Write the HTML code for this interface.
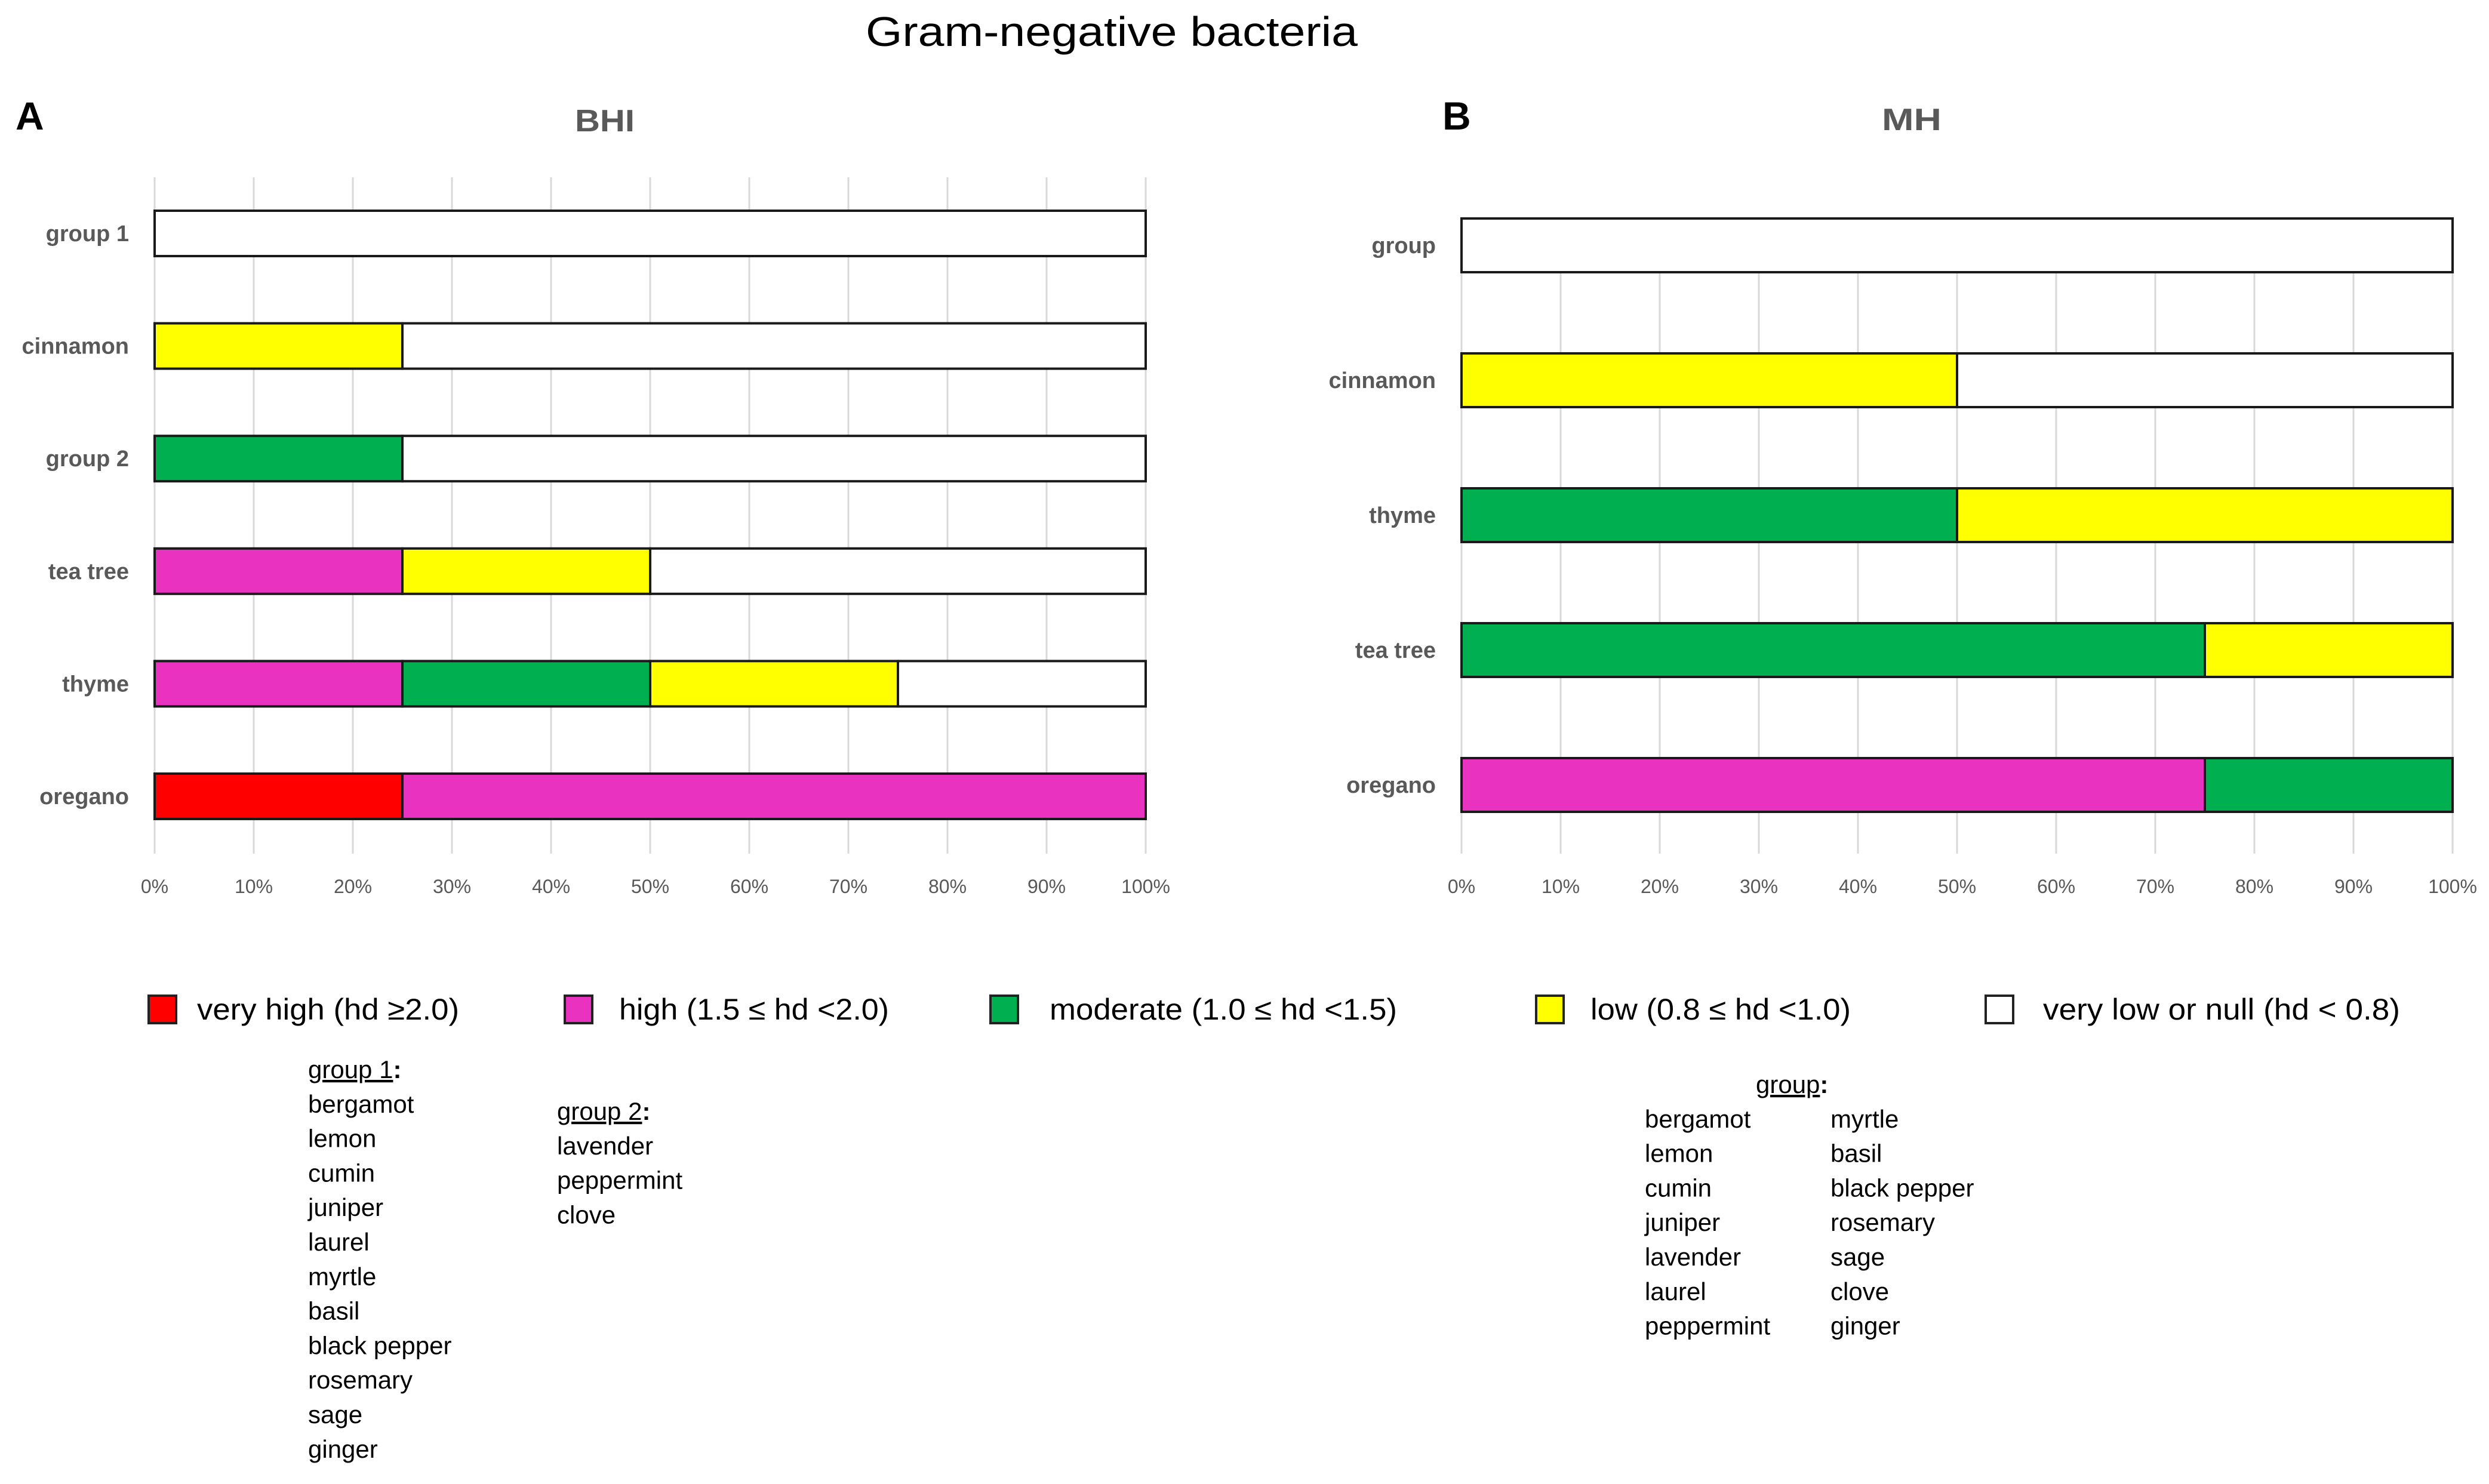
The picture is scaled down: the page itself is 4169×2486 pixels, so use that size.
<!DOCTYPE html>
<html><head><meta charset="utf-8"><style>
html,body{margin:0;padding:0;background:#fff;}
svg{display:block;font-family:"Liberation Sans",sans-serif;}
</style></head><body>
<svg id="fig" width="4169" height="2486" viewBox="0 0 4169 2486" xmlns="http://www.w3.org/2000/svg">
<rect width="4169" height="2486" fill="#fff"/>
<text x="1862" y="77" font-size="70" text-anchor="middle" textLength="824" lengthAdjust="spacingAndGlyphs" fill="#000">Gram-negative bacteria</text>
<text x="26" y="217" font-size="66" font-weight="bold" fill="#000">A</text>
<text x="2416" y="217" font-size="66" font-weight="bold" fill="#000">B</text>
<text x="1013" y="220" font-size="52" font-weight="bold" text-anchor="middle" fill="#595959" textLength="100" lengthAdjust="spacingAndGlyphs">BHI</text>
<text x="3202" y="218" font-size="52" font-weight="bold" text-anchor="middle" fill="#595959" textLength="100" lengthAdjust="spacingAndGlyphs">MH</text>
<g id="chartA"></g>
<g id="chartB"></g>
<g id="legend"></g>
<g id="lists"></g>
</svg>
<script>
const NS="http://www.w3.org/2000/svg";
const colors=["#ff0000","#e933c0","#00b050","#ffff00","#ffffff"];
const levelNames=["very high","high","moderate","low","very low"];
const categoriesA=["group 1","cinnamon","group 2","tea tree","thyme","oregano"];
const veryHighA=[0,0,0,0,0,25];
const highA=[0,0,0,25,25,75];
const moderateA=[0,0,25,0,25,0];
const lowA=[0,25,0,25,25,0];
const veryLowA=[100,75,75,50,25,0];
const categoriesB=["group","cinnamon","thyme","tea tree","oregano"];
const veryHighB=[0,0,0,0,0];
const highB=[0,0,0,0,75];
const moderateB=[0,0,50,75,25];
const lowB=[0,50,50,25,0];
const veryLowB=[100,50,0,0,0];
const ticks=[0,10,20,30,40,50,60,70,80,90,100];
const tickLabels=["0%","10%","20%","30%","40%","50%","60%","70%","80%","90%","100%"];
const legendLabels=["very high (hd \u22652.0)","high (1.5 \u2264 hd <2.0)","moderate (1.0 \u2264 hd <1.5)","low (0.8 \u2264 hd <1.0)","very low or null (hd < 0.8)"];

function el(tag,attrs,parent){const e=document.createElementNS(NS,tag);for(const k in attrs)e.setAttribute(k,attrs[k]);parent.appendChild(e);return e;}

function drawChart(g,cfg){
  const xs=v=>cfg.x0+(cfg.x1-cfg.x0)*v/100;
  const ys=i=>cfg.yFirst+i*cfg.step;
  ticks.forEach((t,i)=>{
    const l=el('line',{x1:xs(t),x2:xs(t),y1:cfg.gTop,y2:cfg.gBot,stroke:'#d9d9d9','stroke-width':3},g);
    
    
    const tx=el('text',{x:xs(t),y:cfg.tickY,'font-size':32,'text-anchor':'middle',fill:'#595959'},g);
    
    
    tx.textContent=tickLabels[i];
  });
  cfg.cats.forEach((c,i)=>{
    const yc=ys(i);
    const lb=el('text',{x:cfg.labelX,y:yc+13,'font-size':38,'font-weight':'bold','text-anchor':'end',fill:'#595959'},g);
    
    
    lb.textContent=c;
    let acc=0;
    cfg.series.forEach((s,k)=>{
      const v=s[i]; if(!v) return;
      const r=el('rect',{x:xs(acc),y:yc-cfg.h/2,width:xs(acc+v)-xs(acc),height:cfg.h,fill:colors[k],stroke:'#1a1a1a','stroke-width':4},g);
      
      
      acc+=v;
    });
  });
}
drawChart(document.getElementById('chartA'),{x0:259,x1:1919,gTop:297,gBot:1430,tickY:1496,labelX:216,yFirst:391,step:188.6,h:76,cats:categoriesA,series:[veryHighA,highA,moderateA,lowA,veryLowA]});
drawChart(document.getElementById('chartB'),{x0:2448,x1:4108,gTop:377,gBot:1430,tickY:1496,labelX:2405,yFirst:411,step:226,h:90,cats:categoriesB,series:[veryHighB,highB,moderateB,lowB,veryLowB]});

const lg=document.getElementById('legend');
const swX=[249,946,1659,2573,3326];
const txX=[330,1037,1758,2664,3422];
const txW=[439,452,582,436,598];
legendLabels.forEach((t,i)=>{
  const r=el('rect',{x:swX[i],y:1668,width:46,height:46,fill:colors[i],stroke:'#222','stroke-width':4},lg);
  
  
  const tx=el('text',{x:txX[i],y:1708,'font-size':50,fill:'#000',textLength:txW[i],lengthAdjust:'spacingAndGlyphs'},lg);
  
  
  tx.textContent=t;
});

const ls=document.getElementById('lists');
function addText(x,y,t,u){
  const tx=el('text',{x:x,y:y,'font-size':42,fill:'#000'},ls);
  
  
  if(u){const sp=el('tspan',{'text-decoration':'underline'},tx);sp.textContent=u;const s2=el('tspan',{'font-weight':'bold'},tx);s2.textContent=':';}
  else tx.textContent=t;
}
const group1=["bergamot","lemon","cumin","juniper","laurel","myrtle","basil","black pepper","rosemary","sage","ginger"];
const group2=["lavender","peppermint","clove"];
const groupMH1=["bergamot","lemon","cumin","juniper","lavender","laurel","peppermint"];
const groupMH2=["myrtle","basil","black pepper","rosemary","sage","clove","ginger"];
const st=57.8;
addText(516,1806,null,"group 1");
group1.forEach((t,i)=>addText(516,1806+(i+1)*st,t));
addText(933,1876,null,"group 2");
group2.forEach((t,i)=>addText(933,1876+(i+1)*st,t));
addText(2941,1831,null,"group");
groupMH1.forEach((t,i)=>addText(2755,1831+(i+1)*st,t));
groupMH2.forEach((t,i)=>addText(3066,1831+(i+1)*st,t));
</script>
</body></html>
